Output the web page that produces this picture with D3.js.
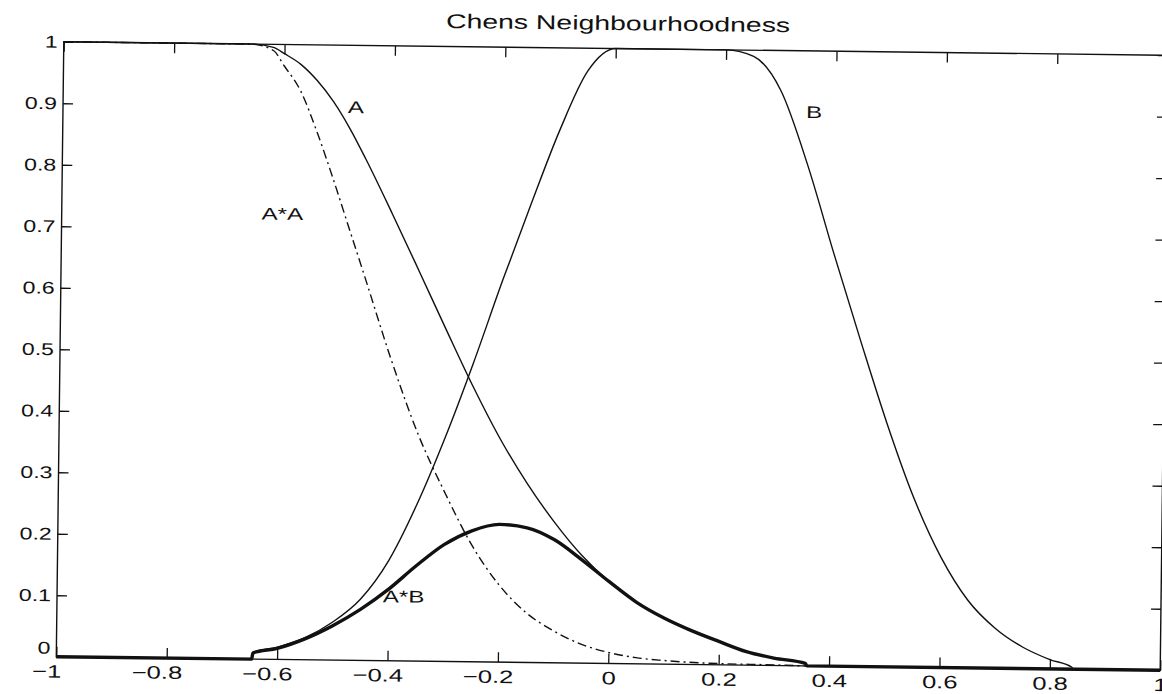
<!DOCTYPE html>
<html>
  <head>
    <title>Chens Neighbourhoodness</title>
    <script src="https://cdn.jsdelivr.net/npm/d3@7"></script>
    <style type="text/css">
      body { margin: 0; background: #fff; }
      text { font-family: "Liberation Sans", Arial, sans-serif; fill: #111; }
      .domain { display: none; }
      .tick line { stroke: #111; stroke-width: 1.3; }
      .curve { fill: none; stroke: #111; stroke-width: 1.4; }
      .thick { stroke-width: 3.4; }
    </style>
  </head>
  <body>
    <svg id="screen" width="1162" height="694"></svg>

    <script type="text/javascript">

    // ticks
    var xTicks = [-1, -0.8, -0.6, -0.4, -0.2, 0, 0.2, 0.4, 0.6, 0.8, 1],
        xTickLabels = ['-1', '-0.8', '-0.6', '-0.4', '-0.2', '0', '0.2', '0.4', '0.6', '0.8', '1'],
        yTicks = [0, 0.1, 0.2, 0.3, 0.4, 0.5, 0.6, 0.7, 0.8, 0.9, 1],
        yTickLabels = ['0', '0.1', '0.2', '0.3', '0.4', '0.5', '0.6', '0.7', '0.8', '0.9', '1'];

    // curve A (solid)
    var aX = [-1, -0.66, -0.62, -0.6, -0.57, -0.54, -0.51, -0.48, -0.45, -0.4, -0.35, -0.3, -0.25, -0.2, -0.15, -0.1, -0.05, 0, 0.05, 0.1, 0.15, 0.2, 0.25, 0.3, 0.357, 0.36, 1],
        aY = [1, 1, 0.995, 0.985, 0.968, 0.942, 0.908, 0.865, 0.815, 0.725, 0.632, 0.538, 0.446, 0.362, 0.29, 0.228, 0.175, 0.133, 0.1, 0.075, 0.055, 0.038, 0.022, 0.012, 0.004, 0, 0];

    // curve B (solid)
    var bX = [-1, -0.646, -0.644, -0.6, -0.55, -0.5, -0.45, -0.4, -0.35, -0.3, -0.25, -0.2, -0.15, -0.1, -0.05, 0, 0.2, 0.25, 0.3, 0.35, 0.4, 0.45, 0.5, 0.55, 0.6, 0.65, 0.7, 0.75, 0.8, 0.84, 0.842, 1],
        bY = [0, 0, 0.01, 0.02, 0.036, 0.062, 0.1, 0.163, 0.255, 0.365, 0.488, 0.62, 0.745, 0.865, 0.963, 1, 1, 0.99, 0.935, 0.815, 0.67, 0.53, 0.395, 0.275, 0.18, 0.11, 0.065, 0.035, 0.015, 0.003, 0, 0];

    // A*A (dash-dot)
    var aaX = [-1, -0.66, -0.62, -0.6, -0.57, -0.54, -0.51, -0.48, -0.45, -0.4, -0.35, -0.3, -0.25, -0.2, -0.15, -0.1, -0.05, 0, 0.05, 0.1, 0.2, 0.3, 0.36, 1],
        aaY = [1, 1, 0.99, 0.965, 0.925, 0.86, 0.785, 0.705, 0.625, 0.49, 0.37, 0.275, 0.19, 0.126, 0.081, 0.052, 0.031, 0.018, 0.01, 0.006, 0.002, 0.001, 0, 0];

    // A*B (thick)
    var abX = [-1, -0.646, -0.644, -0.6, -0.55, -0.5, -0.45, -0.4, -0.35, -0.3, -0.25, -0.2, -0.15, -0.1, -0.05, 0, 0.05, 0.1, 0.15, 0.2, 0.25, 0.3, 0.357, 0.36, 1],
        abY = [0, 0, 0.01, 0.018, 0.034, 0.056, 0.083, 0.116, 0.155, 0.19, 0.213, 0.224, 0.219, 0.2, 0.168, 0.133, 0.1, 0.075, 0.055, 0.038, 0.022, 0.012, 0.004, 0, 0];

    var labels = [
      { text: 'A',   x: -0.484, y: 0.89 },
      { text: 'A*A', x: -0.638, y: 0.715 },
      { text: 'B',   x: 0.346,  y: 0.891 },
      { text: 'A*B', x: -0.41,  y: 0.095 }
    ];

    var stretch = 1.42;

    var pLeft = 60, pRight = 1164, pTop = 48.5, pBottom = 663.5;

    var x = d3.scaleLinear().domain([-1, 1]).range([pLeft, pRight]),
        y = d3.scaleLinear().domain([0, 1]).range([pBottom, pTop]);

    var svg = d3.select('#screen');
    svg.append('rect').attr('width', 1162).attr('height', 694).attr('fill', '#fff');

    // the scan is turned slightly clockwise
    var g = svg.append('g').attr('transform', 'rotate(0.7,612,356)');

    function widen(sel, k) {
      sel.each(function() {
        var w = this.getComputedTextLength();
        d3.select(this).attr('textLength', w * (k || stretch)).attr('lengthAdjust', 'spacingAndGlyphs');
      });
    }

    // axes
    var gx = g.append('g')
      .attr('transform', 'translate(0,' + pBottom + ')')
      .call(d3.axisBottom(x).tickValues(xTicks).tickSizeInner(-10).tickSizeOuter(0).tickPadding(8)
        .tickFormat(function(d, i) { return xTickLabels[i].replace('-', '\u2212'); }));
    gx.selectAll('text').style('font-size', '18px')
      .attr('dx', function(d) { return d < 0 ? -10 : 0; });
    widen(gx.selectAll('text'));

    g.append('g')
      .attr('transform', 'translate(0,' + pTop + ')')
      .call(d3.axisTop(x).tickValues(xTicks).tickSizeInner(-10).tickSizeOuter(0).tickFormat(''));

    var gy = g.append('g')
      .attr('transform', 'translate(' + pLeft + ',0)')
      .call(d3.axisLeft(y).tickValues(yTicks).tickSizeInner(-10).tickSizeOuter(0).tickPadding(6)
        .tickFormat(function(d, i) { return yTickLabels[i]; }));
    gy.selectAll('text').style('font-size', '17px')
      .attr('dy', function(d) { return d === 0 ? '-0.2em' : '0.32em'; });
    widen(gy.selectAll('text'), 1.36);

    g.append('g')
      .attr('transform', 'translate(' + pRight + ',0)')
      .call(d3.axisRight(y).tickValues(yTicks).tickSizeInner(-10).tickSizeOuter(0).tickFormat(''));

    g.append('rect')
      .attr('x', pLeft).attr('y', pTop)
      .attr('width', pRight - pLeft).attr('height', pBottom - pTop)
      .attr('fill', 'none').attr('stroke', '#111').attr('stroke-width', 1.4);

    // curves
    var line = d3.line()
      .x(function(d) { return x(d[0]); })
      .y(function(d) { return y(d[1]); })
      .curve(d3.curveMonotoneX);

    g.append('path').attr('class', 'curve').attr('d', line(d3.zip(aX, aY)));
    g.append('path').attr('class', 'curve').attr('d', line(d3.zip(bX, bY)));
    g.append('path').attr('class', 'curve')
      .attr('stroke-dasharray', '9,4,2,4')
      .attr('d', line(d3.zip(aaX, aaY)));
    g.append('path').attr('class', 'curve thick').attr('d', line(d3.zip(abX, abY)));

    // curve labels
    var lt = g.selectAll('.lbl')
      .data(labels)
      .enter()
      .append('text')
      .attr('class', 'lbl')
      .attr('x', function(d) { return x(d.x); })
      .attr('y', function(d) { return y(d.y); })
      .style('font-size', '17px')
      .text(function(d) { return d.text; });
    widen(lt);

    // title
    var title = g.append('text')
      .attr('x', (pLeft + pRight) / 2 + 2)
      .attr('y', 30)
      .attr('text-anchor', 'middle')
      .style('font-size', '20px')
      .text('Chens Neighbourhoodness');
    widen(title);

    </script>
  </body>
</html>
